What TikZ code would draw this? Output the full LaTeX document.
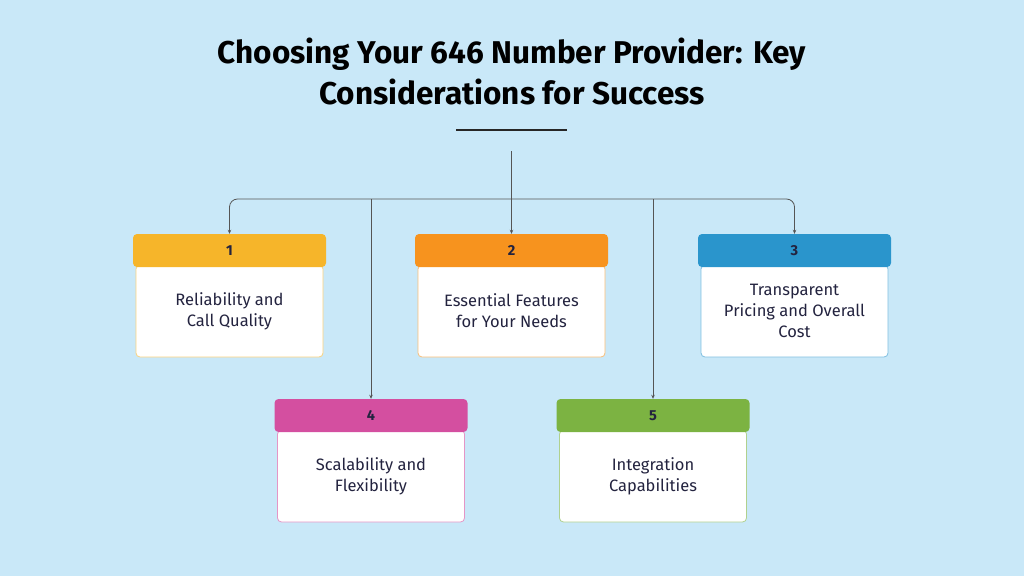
\documentclass[tikz,border=0pt]{standalone}
\usepackage{fontspec}
\setmainfont{Fira Sans}
\usetikzlibrary{arrows.meta}
\definecolor{bg}{HTML}{C9E8F8}
\definecolor{cA}{HTML}{F6B52A}
\definecolor{cB}{HTML}{F7931E}
\definecolor{cC}{HTML}{2A95CC}
\definecolor{cD}{HTML}{D44FA0}
\definecolor{cE}{HTML}{7CB342}
\definecolor{txt}{HTML}{23233F}
\definecolor{ln}{HTML}{555555}
\tikzset{
  hdr/.style={rounded corners=4pt, minimum width=193pt, minimum height=33pt, inner sep=0pt,
     font=\fontsize{14.5}{16}\selectfont\bfseries, text=txt},
  bodybox/.style={rounded corners=4pt, fill=white, line width=0.8pt, minimum width=187pt,
     minimum height=92pt, inner sep=0pt, align=center, text=txt,
     font=\fontsize{16.5}{21}\selectfont},
  conn/.style={draw=ln, line width=0.8pt, -{Stealth[length=4pt,width=3.5pt]}},
  plain/.style={draw=ln, line width=0.8pt}
}
\begin{document}
\begin{tikzpicture}[x=1pt,y=-1pt]
\fill[bg] (0,0) rectangle (1024,576);
\useasboundingbox (0,0) rectangle (1024,576);
% title
\node[font=\fontsize{31.5}{41}\selectfont\bfseries, align=center] (title) at (512,71)
  {Choosing Your 646 Number Provider: Key\\Considerations for Success};
\coordinate (ulA) at (456,130);
\coordinate (ulB) at (567,130);
\draw[line width=1.2pt, draw=black!85] (ulA) -- (ulB);
% bodies
\node[bodybox, draw=cA!60] (b1) at (229.5,311) {Reliability and\\Call Quality};
\node[bodybox, draw=cB!60] (b2) at (511.5,311) {Essential Features\\for Your Needs};
\node[bodybox, draw=cC!60] (b3) at (794.5,311) {Transparent\\Pricing and Overall\\Cost};
\node[bodybox, draw=cD!60] (b4) at (371,476) {Scalability and\\Flexibility};
\node[bodybox, draw=cE!60] (b5) at (653,476) {Integration\\Capabilities};
% headers
\node[hdr, fill=cA] (h1) at (229.5,250.5) {1};
\node[hdr, fill=cB] (h2) at (511.5,250.5) {2};
\node[hdr, fill=cC] (h3) at (794.5,250.5) {3};
\node[hdr, fill=cD] (h4) at (371,415.5) {4};
\node[hdr, fill=cE] (h5) at (653,415.5) {5};
% connectors
\coordinate (top) at (511.5,151);
\coordinate (j) at (511.5,199);
\coordinate (j4) at (371,199);
\coordinate (j5) at (653,199);
\draw[conn] (top) -- (h2.north);
\draw[conn, rounded corners=8pt] (j) -| (h1.north);
\draw[conn, rounded corners=8pt] (j) -| (h3.north);
\draw[conn] (j4) -- (h4.north);
\draw[conn] (j5) -- (h5.north);
\end{tikzpicture}
\end{document}
